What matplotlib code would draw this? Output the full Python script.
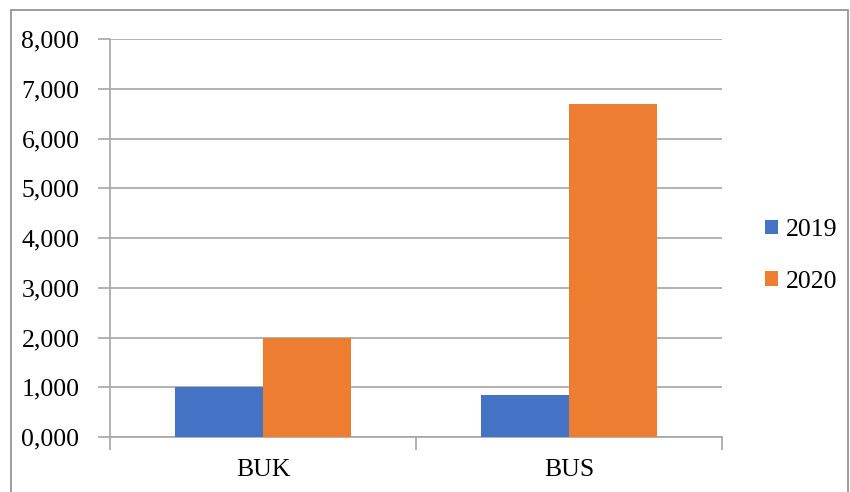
import matplotlib.pyplot as plt
import numpy as np
from matplotlib.patches import Rectangle

categories = ['BUK', 'BUS']
years = ['2019', '2020']
values_2019 = [1000, 850]
values_2020 = [2000, 6690]
y_ticks = [0, 1000, 2000, 3000, 4000, 5000, 6000, 7000, 8000]
y_tick_labels = ['0,000', '1,000', '2,000', '3,000', '4,000',
                 '5,000', '6,000', '7,000', '8,000']

blue = '#4472C4'
orange = '#ED7D31'
grid_color = '#A6A6A6'

plt.rcParams['font.family'] = ['Liberation Serif', 'DejaVu Serif']

W, H = 850, 492
fig = plt.figure(figsize=(W / 100, H / 100), dpi=100)
ax = fig.add_axes([110 / W, 1 - 437 / H, (722 - 110) / W, (437 - 39) / H])

# outer chart frame
fig.add_artist(Rectangle((11 / W, -0.1), (848 - 11) / W, (H - 10) / H + 0.1,
                         transform=fig.transFigure, fill=False,
                         edgecolor='#8C8C8C', linewidth=1.2))

x = np.arange(len(categories))
width = 0.2875
ax.bar(x - width / 2, values_2019, width, color=blue, label=years[0], zorder=3)
ax.bar(x + width / 2, values_2020, width, color=orange, label=years[1], zorder=3)

ax.set_xlim(-0.5, len(categories) - 0.5)
ax.set_ylim(0, 8000)
ax.set_yticks(y_ticks)
ax.set_yticklabels(y_tick_labels)
ax.set_xticks(x)
ax.set_xticklabels(categories)

# category boundary ticks below the axis
ax.set_xticks(np.arange(len(categories) + 1) - 0.5, minor=True)
ax.tick_params(axis='x', which='major', length=0, labelsize=18.5, pad=16)
ax.tick_params(axis='x', which='minor', length=9, color=grid_color, width=1.2)
ax.tick_params(axis='y', length=9, color=grid_color, width=1.2, labelsize=18.5, pad=13)

ax.grid(axis='y', color=grid_color, linewidth=1.2, zorder=0)
for side in ['top', 'right']:
    ax.spines[side].set_visible(False)
ax.spines['left'].set_color(grid_color)
ax.spines['bottom'].set_color(grid_color)
ax.spines['left'].set_linewidth(1.2)
ax.spines['bottom'].set_linewidth(1.2)

ax.legend(loc='center left', bbox_to_anchor=(742 / W, 1 - 256 / H),
          bbox_transform=fig.transFigure, frameon=False, fontsize=18.5,
          handlelength=0.5, handleheight=0.5, handletextpad=0.3,
          labelspacing=1.15)

fig.savefig('out.png', dpi=100)
